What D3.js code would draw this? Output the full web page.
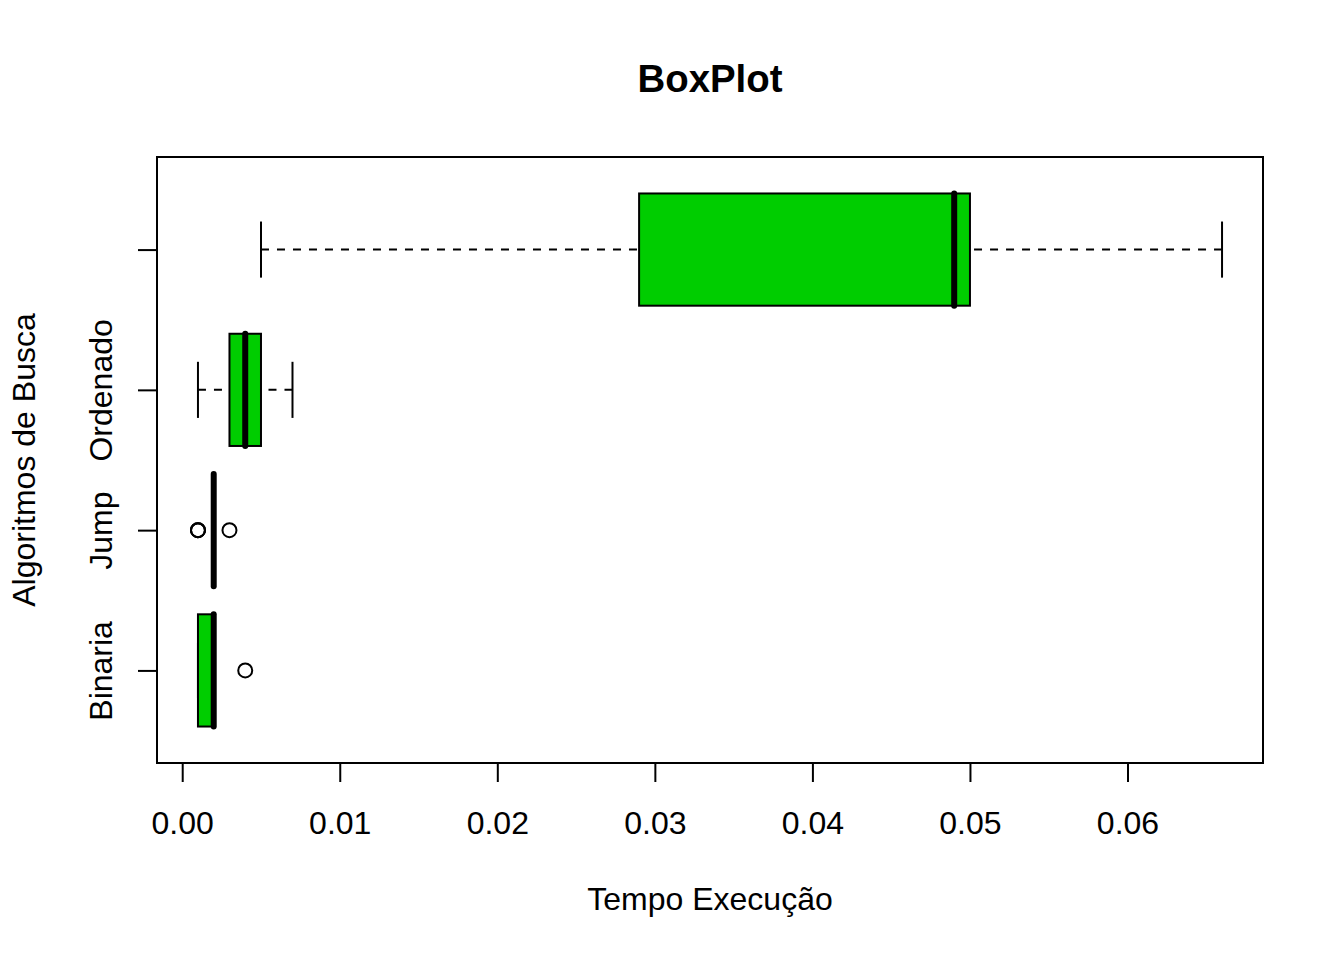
<!DOCTYPE html>
<html>
<head>
<meta charset="utf-8">
<script src="https://cdn.jsdelivr.net/npm/d3@7"></script>
<style>
  body { margin: 0; background: #fff; }
  text { font-family: "Liberation Sans", Arial, sans-serif; fill: #000; }
</style>
</head>
<body>
<div id="wrapper"></div>
<script>
/*global d3*/

// data, one entry per algorithm (bottom to top)
// R left out the 4th axis label because it would overlap
const categories = ["Binaria", "Jump", "Ordenado", ""]
const whiskerLow = [0.001, 0.002, 0.001, 0.005]
const q1 = [0.001, 0.002, 0.003, 0.029]
const medians = [0.002, 0.002, 0.004, 0.049]
const q3 = [0.002, 0.002, 0.005, 0.050]
const whiskerHigh = [0.002, 0.002, 0.007, 0.066]
const outliers = [[0.004], [0.001, 0.001, 0.001, 0.003], [], []]
const xTicks = [0, 0.01, 0.02, 0.03, 0.04, 0.05, 0.06]

const boxes = categories.map((name, i) => ({
    pos: i + 1,
    lo: whiskerLow[i], q1: q1[i], med: medians[i], q3: q3[i], hi: whiskerHigh[i],
    out: outliers[i]
}))

const dims = {
    width: 1344,
    height: 960,
    margin: { top: 157, right: 81, bottom: 197, left: 157 }
}
dims.boundedWidth = dims.width - dims.margin.left - dims.margin.right
dims.boundedHeight = dims.height - dims.margin.top - dims.margin.bottom

const svg = d3.select("#wrapper")
    .append("svg")
    .attr("width", dims.width)
    .attr("height", dims.height)

const bounds = svg.append("g")
    .attr("transform", `translate(${dims.margin.left},${dims.margin.top})`)

// scales (R pads the range by 4% each side)
const xMin = d3.min(boxes, d => d3.min([d.lo, ...d.out]))
const xMax = d3.max(boxes, d => d3.max([d.hi, ...d.out]))
const pad = (xMax - xMin) * 0.04
const xScale = d3.scaleLinear()
    .domain([xMin - pad, xMax + pad])
    .range([0, dims.boundedWidth])

const yPad = categories.length * 0.04
const yScale = d3.scaleLinear()
    .domain([0.5 - yPad, categories.length + 0.5 + yPad])
    .range([dims.boundedHeight, 0])

const boxHalf = 0.4
const capHalf = 0.2
const green = "#00cd00"
const lw = 2

// whiskers, drawn from the end towards the box like R does
const g = bounds.selectAll(".box")
    .data(boxes)
    .join("g")
    .attr("class", "box")

g.append("line")
    .attr("x1", d => xScale(d.lo)).attr("x2", d => xScale(d.q1))
    .attr("y1", d => yScale(d.pos)).attr("y2", d => yScale(d.pos))
    .attr("stroke", "#000").attr("stroke-width", lw)
    .attr("stroke-dasharray", "8,8")
g.append("line")
    .attr("x1", d => xScale(d.hi)).attr("x2", d => xScale(d.q3))
    .attr("y1", d => yScale(d.pos)).attr("y2", d => yScale(d.pos))
    .attr("stroke", "#000").attr("stroke-width", lw)
    .attr("stroke-dasharray", "8,8")

// staples
g.selectAll(".cap")
    .data(d => [d.lo, d.hi].map(v => ({ v, pos: d.pos })))
    .join("line")
    .attr("class", "cap")
    .attr("x1", d => xScale(d.v)).attr("x2", d => xScale(d.v))
    .attr("y1", d => yScale(d.pos - capHalf)).attr("y2", d => yScale(d.pos + capHalf))
    .attr("stroke", "#000").attr("stroke-width", lw)

// box
g.append("rect")
    .attr("x", d => xScale(d.q1))
    .attr("width", d => xScale(d.q3) - xScale(d.q1))
    .attr("y", d => yScale(d.pos + boxHalf))
    .attr("height", d => yScale(d.pos - boxHalf) - yScale(d.pos + boxHalf))
    .attr("fill", green)
    .attr("stroke", "#000").attr("stroke-width", lw)

// median
g.append("line")
    .attr("x1", d => xScale(d.med)).attr("x2", d => xScale(d.med))
    .attr("y1", d => yScale(d.pos - boxHalf)).attr("y2", d => yScale(d.pos + boxHalf))
    .attr("stroke", "#000").attr("stroke-width", 6)
    .attr("stroke-linecap", "round")

// outliers
g.selectAll(".out")
    .data(d => d.out.map(v => ({ v, pos: d.pos })))
    .join("circle")
    .attr("class", "out")
    .attr("cx", d => xScale(d.v))
    .attr("cy", d => yScale(d.pos))
    .attr("r", 7)
    .attr("fill", "none")
    .attr("stroke", "#000").attr("stroke-width", lw)

// frame
bounds.append("rect")
    .attr("width", dims.boundedWidth)
    .attr("height", dims.boundedHeight)
    .attr("fill", "none")
    .attr("stroke", "#000").attr("stroke-width", lw)

// x axis
const xAxisGenerator = d3.axisBottom(xScale)
    .tickValues(xTicks)
    .tickFormat(d3.format(".2f"))
    .tickSize(19)

const xAxis = bounds.append("g")
    .attr("transform", `translate(0,${dims.boundedHeight})`)
    .call(xAxisGenerator)
xAxis.select(".domain").remove()
xAxis.selectAll(".tick line").attr("stroke", "#000").attr("stroke-width", lw)
xAxis.selectAll(".tick text")
    .attr("dy", null)
    .attr("y", 834 - 763)
    .style("font-size", "32px")
    .style("font-family", "'Liberation Sans', Arial, sans-serif")
    .attr("fill", "#000")

// y axis
const yAxisGenerator = d3.axisLeft(yScale)
    .tickValues(boxes.map(d => d.pos))
    .tickFormat((d, i) => categories[i])
    .tickSize(19)

const yAxis = bounds.append("g").call(yAxisGenerator)
yAxis.select(".domain").remove()
yAxis.selectAll(".tick line").attr("stroke", "#000").attr("stroke-width", lw)
yAxis.selectAll(".tick text")
    .attr("x", null).attr("dy", null)
    .attr("transform", `translate(${112 - 157},0) rotate(-90)`)
    .attr("text-anchor", "middle")
    .style("font-size", "32px")
    .style("font-family", "'Liberation Sans', Arial, sans-serif")
    .attr("fill", "#000")

// titles
svg.append("text")
    .attr("x", dims.margin.left + dims.boundedWidth / 2)
    .attr("y", 92)
    .attr("text-anchor", "middle")
    .style("font-size", "38.4px")
    .style("font-weight", "bold")
    .text("BoxPlot")

svg.append("text")
    .attr("x", dims.margin.left + dims.boundedWidth / 2)
    .attr("y", 910)
    .attr("text-anchor", "middle")
    .style("font-size", "32px")
    .text("Tempo Execução")

svg.append("text")
    .attr("transform", `translate(35,${dims.margin.top + dims.boundedHeight / 2}) rotate(-90)`)
    .attr("text-anchor", "middle")
    .style("font-size", "32px")
    .text("Algoritmos de Busca")
</script>
</body>
</html>
